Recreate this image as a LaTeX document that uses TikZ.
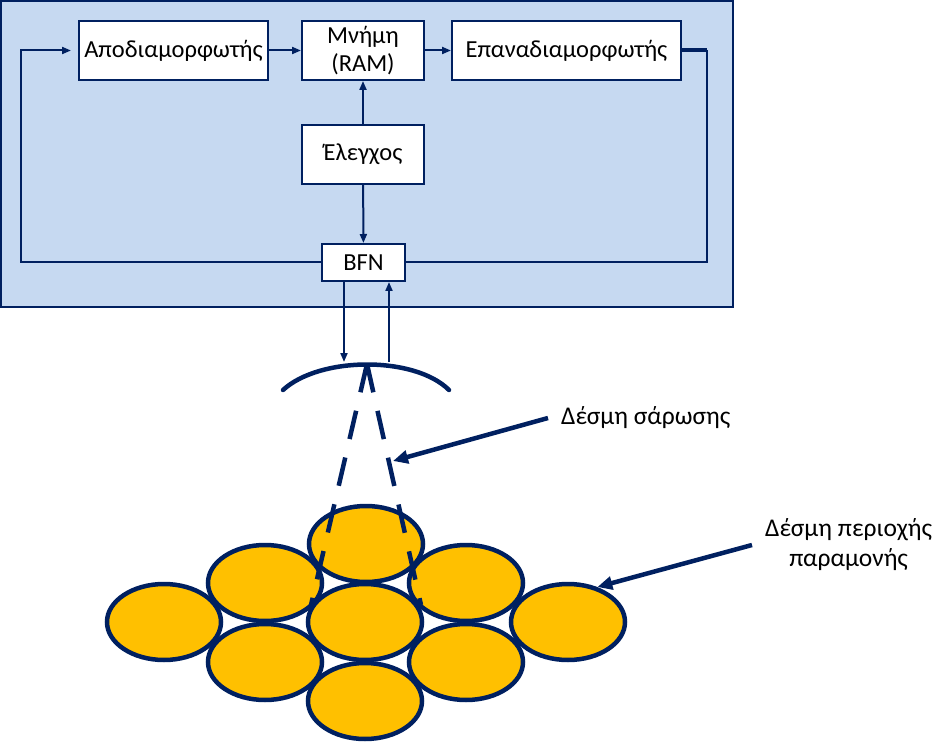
\documentclass[tikz,border=0pt]{standalone}
\usepackage{fontspec}
\setmainfont{Carlito}
\usetikzlibrary{arrows.meta,shapes.geometric}
\definecolor{navy}{HTML}{002060}
\definecolor{panel}{HTML}{C6D9F1}
\definecolor{spot}{HTML}{FFC000}

\begin{document}
\begin{tikzpicture}[x=1pt, y=-1pt, >={Triangle[length=9pt,width=7pt]},
    block/.style = {draw=navy, line width=2pt, fill=white, minimum height=59pt,
                    inner sep=0pt, align=center, font=\fontsize{24.5}{28}\selectfont},
    link/.style = {draw=navy, line width=2pt},
    beam/.style = {draw=navy, line width=4.5pt},
    cell/.style = {ellipse, draw=navy, line width=4.5pt, fill=spot,
                   minimum width=114pt, minimum height=76pt, inner sep=0pt},
    note/.style = {inner xsep=13pt, align=center, font=\fontsize{25.5}{30}\selectfont},
    pointer/.style = {navy, line width=4.5pt, -{Triangle[length=15pt,width=13pt]}}]
    \useasboundingbox (0,0) rectangle (945,743);

    % processor panel
    \draw [navy, line width=2pt, fill=panel] (1,1) rectangle (733,307);

    \node [block, minimum width=189pt] (demod) at (173.5,50.5) {Αποδιαμορφωτής};
    \node [block, minimum width=122pt] (ram) at (363,50.5) {Μνήμη\\(RAM)};
    \node [block, minimum width=229pt] (remod) at (566.5,50.5) {Επαναδιαμορφωτής};
    \node [block, minimum width=122pt] (ctrl) at (363,154.5) {Έλεγχος};
    \node [block, minimum width=83pt, minimum height=37pt] (bfn) at (363.5,262.5) {BFN};

    \coordinate (loopL) at (21,50.5);
    \coordinate (loopR) at (707,50.5);
    \draw [link, ->, shorten >=7pt] (bfn.west) -| (loopL) -- (demod.west);
    \draw [link, ->] (demod) -- (ram);
    \draw [link, ->] (ram) -- (remod);
    \draw [link, ->] (ctrl) -- (ram);
    \draw [link, ->] (ctrl) -- (bfn);
    \draw [navy, line width=4pt] (remod.east) -- (loopR);
    \draw [link] (loopR) |- (bfn.east);

    % feed lines and reflector
    \coordinate (feedTx) at (344,362);
    \coordinate (feedRx) at (389,362);
    \draw [link, ->] (bfn.south -| feedTx) -- (feedTx);
    \draw [link, ->] (feedRx) -- (bfn.south -| feedRx);
    \coordinate (apex) at (367,364);
    \draw [beam, line cap=round] (283,390) .. controls (320,356) and (415,356) .. (449,390);

    % spot beams
    \foreach \name/\x/\y in {c1/366/544, c2/265/583, c3/466/583, c4/164/622, c5/365/622,
                             c6/568/622, c7/265/662, c8/466/662, c9/365/701}
        \node [cell] (\name) at (\x,\y) {};

    % scanning beam
    \draw [beam, dash pattern=on 29pt off 19pt] (apex) -- (311,605);
    \draw [beam, dash pattern=on 29pt off 19pt] (apex) -- (421,605);

    \node [note, anchor=west] (scanlbl) at (548,418) {Δέσμη σάρωσης};
    \coordinate (scanTip) at (393,461);
    \draw [pointer] (scanlbl.west) -- (scanTip);

    \node [note, anchor=west] (dwelllbl) at (752,545) {Δέσμη περιοχής\\παραμονής};
    \draw [pointer] (dwelllbl.west) -- (c6.50);
\end{tikzpicture}
\end{document}
